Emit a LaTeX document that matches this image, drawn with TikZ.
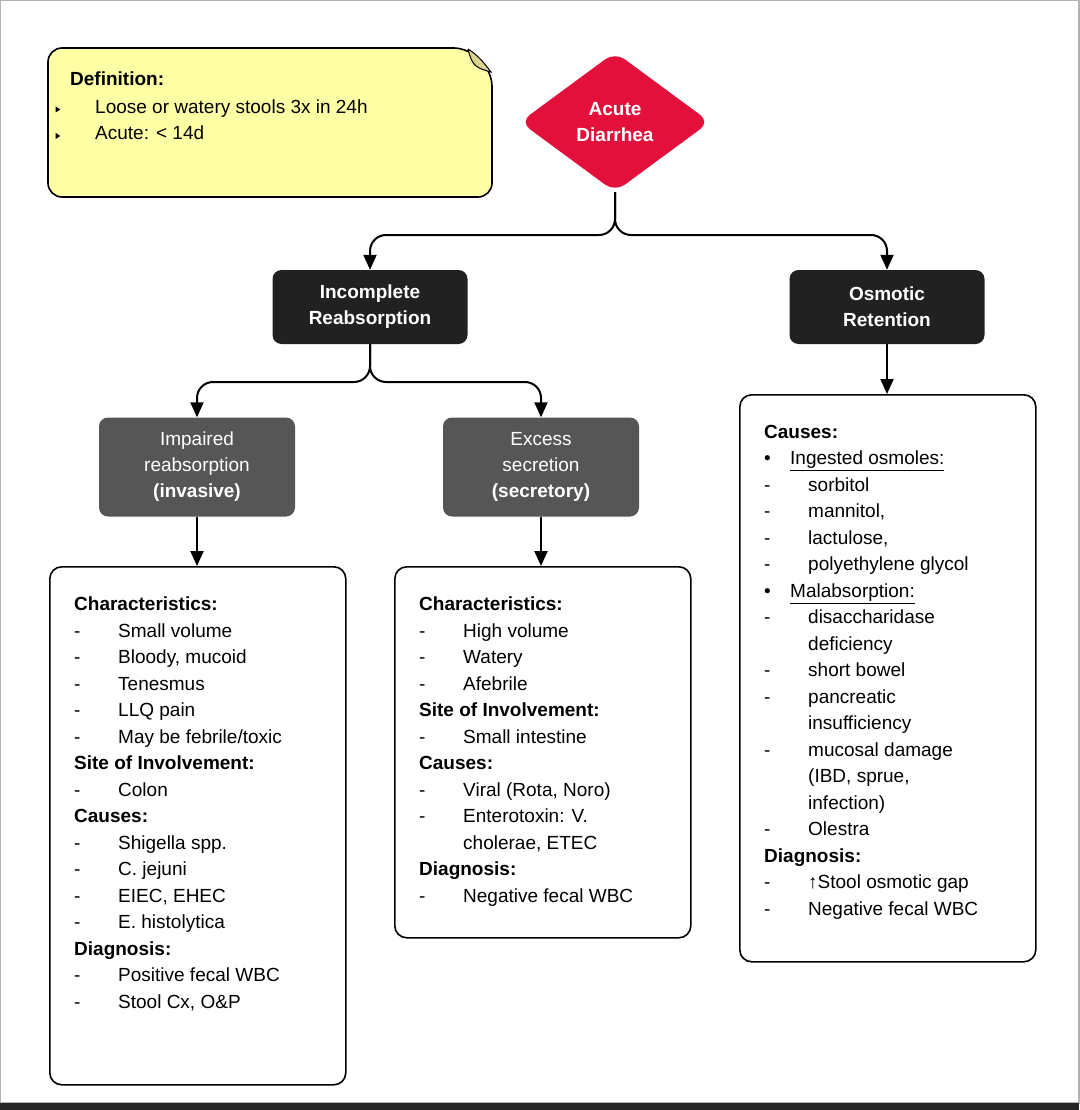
\documentclass[tikz,border=0pt]{standalone}
\usepackage{fontspec}
\setmainfont{Liberation Sans}
\usetikzlibrary{calc, shapes.geometric, arrows.meta}
\definecolor{NoteFill}{HTML}{FFFFA6}
\definecolor{NoteFold}{HTML}{D8D38E}
\definecolor{AlarmRed}{HTML}{E3103C}
\definecolor{DarkBox}{HTML}{212121}
\definecolor{GreyBox}{HTML}{565656}
\newcommand{\dashitem}[1]{\makebox[44pt][l]{-}#1}
\newcommand{\contitem}[1]{\makebox[44pt][l]{}#1}
\newcommand{\bulitem}[1]{\makebox[26pt][l]{\textbullet}#1}
\newcommand{\tri}{\tikz[baseline=-1pt]\fill (0,0) -- (0,6pt) -- (4.5pt,3pt) -- cycle;}
\newcommand{\noteitem}[1]{\hspace*{25pt}\makebox[0pt][r]{\tri\hspace{35pt}}#1}
\tikzset{
    head box/.style={draw=none, fill=DarkBox, text=white, rounded corners=9pt,
        minimum width=195pt, minimum height=74pt, align=center,
        font=\fontsize{19}{26}\selectfont\bfseries},
    sub box/.style={head box, fill=GreyBox, font=\fontsize{19}{26}\selectfont,
        minimum width=196pt, minimum height=99pt},
    info box/.style={draw=black, line width=1.6pt, fill=white, rounded corners=12pt},
    info text/.style={anchor=north west, inner sep=0pt, align=left,
        font=\fontsize{19}{26.5}\selectfont},
    conn/.style={draw=black, line width=2pt, rounded corners=16pt,
        -{Triangle[length=15pt, width=13pt]}}
}
\begin{document}
\begin{tikzpicture}[x=1pt, y=-1pt]
\useasboundingbox (0,0) rectangle (1079,1110);
\draw[gray!60, line width=1.5pt] (0,0) rectangle (1079,1103);
\fill[black!85] (0,1103) rectangle (1079,1110);

% Nota de definicion
\fill[NoteFill, draw=black, line width=1.6pt, rounded corners=14pt]
    (48,48) -- (468,48) -- (492,72) -- (492,197) -- (48,197) -- cycle;
\fill[NoteFold, draw=black, line width=1pt]
    (468,49) .. controls (472,66) and (476,68) .. (491,72) .. controls (482,60) and (476,54) .. (468,49);
\node[info text] (defn) at (70,72) {\textbf{Definition:}\\[1pt]
    \noteitem{Loose or watery stools 3x in 24h}\\
    \noteitem{Acute: < 14d}};

% Nodo principal
\node[diamond, fill=AlarmRed, text=white, rounded corners=12pt,
    minimum width=190pt, minimum height=140pt, inner sep=0pt, align=center,
    font=\fontsize{19}{26}\selectfont\bfseries] (acute) at (615,122) {Acute\\Diarrhea};

% Mecanismos
\node[head box] (incomp) at (370,307) {Incomplete\\Reabsorption};
\node[head box] (osmotic) at (887,307) {Osmotic\\Retention};
\node[sub box] (impaired) at (197,467) {Impaired\\reabsorption\\\textbf{(invasive)}};
\node[sub box] (excess) at (541,467) {Excess\\secretion\\\textbf{(secretory)}};

% Cajas de detalle
\node[info box, anchor=north west, minimum width=296pt, minimum height=518pt] (invbox) at (49,566) {};
\node[info box, anchor=north west, minimum width=296pt, minimum height=371pt] (secbox) at (394,566) {};
\node[info box, anchor=north west, minimum width=296pt, minimum height=567pt] (osmbox) at (739,394) {};

\node[info text] at (74,597) {\textbf{Characteristics:}\\
    \dashitem{Small volume}\\ \dashitem{Bloody, mucoid}\\ \dashitem{Tenesmus}\\
    \dashitem{LLQ pain}\\ \dashitem{May be febrile/toxic}\\
    \textbf{Site of Involvement:}\\ \dashitem{Colon}\\
    \textbf{Causes:}\\ \dashitem{Shigella spp.}\\ \dashitem{C. jejuni}\\
    \dashitem{EIEC, EHEC}\\ \dashitem{E. histolytica}\\
    \textbf{Diagnosis:}\\ \dashitem{Positive fecal WBC}\\ \dashitem{Stool Cx, O\&P}};

\node[info text] at (419,597) {\textbf{Characteristics:}\\
    \dashitem{High volume}\\ \dashitem{Watery}\\ \dashitem{Afebrile}\\
    \textbf{Site of Involvement:}\\ \dashitem{Small intestine}\\
    \textbf{Causes:}\\ \dashitem{Viral (Rota, Noro)}\\ \dashitem{Enterotoxin: V.}\\
    \contitem{cholerae, ETEC}\\
    \textbf{Diagnosis:}\\ \dashitem{Negative fecal WBC}};

\node[info text] at (764,425) {\textbf{Causes:}\\
    \bulitem{\underline{Ingested osmoles:}}\\
    \dashitem{sorbitol}\\ \dashitem{mannitol,}\\ \dashitem{lactulose,}\\
    \dashitem{polyethylene glycol}\\
    \bulitem{\underline{Malabsorption:}}\\
    \dashitem{disaccharidase}\\ \contitem{deficiency}\\ \dashitem{short bowel}\\
    \dashitem{pancreatic}\\ \contitem{insufficiency}\\ \dashitem{mucosal damage}\\
    \contitem{(IBD, sprue,}\\ \contitem{infection)}\\ \dashitem{Olestra}\\
    \textbf{Diagnosis:}\\ \dashitem{↑Stool osmotic gap}\\ \dashitem{Negative fecal WBC}};

% Conectores
\coordinate (split1) at (615,235);
\coordinate (split2) at (370,382);
\draw[conn] (acute.south) -- (split1) -| (incomp.north);
\draw[conn] (acute.south) -- (split1) -| (osmotic.north);
\draw[conn] (incomp.south) -- (split2) -| (impaired.north);
\draw[conn] (incomp.south) -- (split2) -| (excess.north);
\draw[conn] (osmotic.south) -- (osmbox.north -| osmotic.south);
\draw[conn] (impaired.south) -- (invbox.north -| impaired.south);
\draw[conn] (excess.south) -- (secbox.north -| excess.south);
\end{tikzpicture}
\end{document}
